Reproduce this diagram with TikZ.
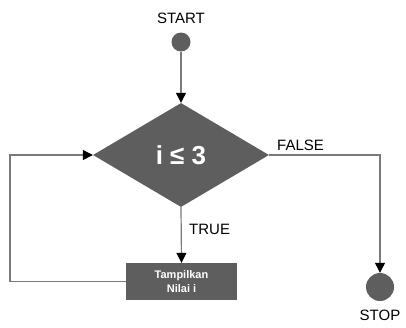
\documentclass[tikz,border=0pt]{standalone}
\usepackage{fontspec}
\setmainfont{Liberation Sans}
\usetikzlibrary{shapes.geometric,arrows.meta}
\definecolor{fillg}{HTML}{5E5E5E}
\definecolor{lineg}{HTML}{7A7A7A}
\tikzset{
  conn/.style={draw=lineg, line width=1.2pt},
  arr/.style={conn, -{Triangle[length=10pt,width=10pt,color=black]}},
  lbl/.style={font=\fontsize{15}{17}\selectfont, inner sep=0pt},
  term/.style={circle, fill=fillg, draw=none, inner sep=0pt},
}
\begin{document}
\begin{tikzpicture}[x=1pt,y=-1pt]
\useasboundingbox (0,0) rectangle (406,327);
\node[lbl] (tstart) at (181,18) {START};
\node[term, minimum size=19pt] (start) at (181,42) {};
\node[diamond, fill=fillg, minimum width=176pt, minimum height=104pt, inner sep=0pt, text=white,
  font=\bfseries\fontsize{26}{28}\selectfont] (dec) at (181,155) {i ≤ 3};
\node[rectangle, fill=fillg, minimum width=111pt, minimum height=37pt, inner sep=0pt, text=white,
  align=center, font=\bfseries\fontsize{11}{14}\selectfont] (box) at (181.5,281.5) {Tampilkan\\Nilai i};
\node[term, minimum size=28pt] (stop) at (380,287) {};
\node[lbl] (tstop) at (380,315) {STOP};
\node[lbl, anchor=west] (tfalse) at (277,145) {FALSE};
\node[lbl, anchor=west] (ttrue) at (189,229) {TRUE};
\coordinate (l1) at (10,281.5);
\coordinate (l2) at (10,155);
\coordinate (r1) at (380,155);
\draw[arr] (start.south) -- (dec.north);
\draw[arr] (dec.south) -- (box.north);
\draw[arr] (box.west) -- (l1) -- (l2) -- (dec.west);
\draw[arr] (dec.east) -- (r1) -- (stop.north);
\end{tikzpicture}
\end{document}
